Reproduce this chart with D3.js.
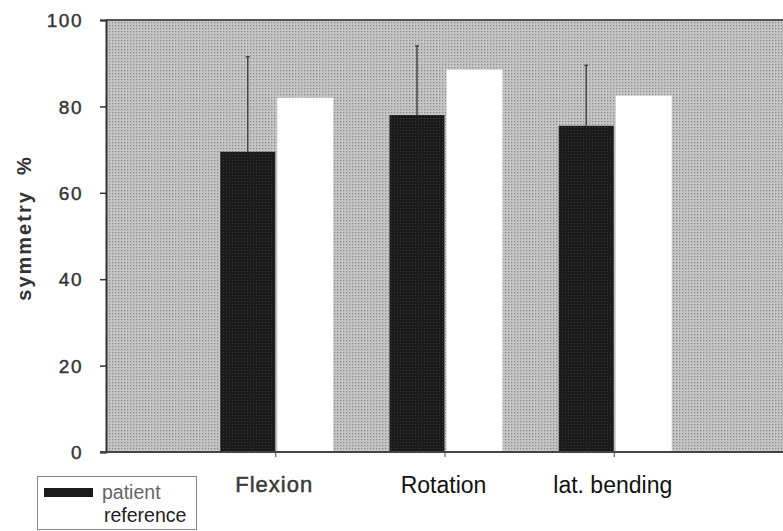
<!DOCTYPE html>
<html><head><meta charset="utf-8">
<script src="https://cdn.jsdelivr.net/npm/d3@7/dist/d3.min.js"></script>
<style>body{margin:0;background:#fff}svg{display:block}</style>
</head><body><div id="chart"></div>
<script>
const categories = ["Flexion", "Rotation", "lat. bending"];
const patient = [69.5, 78, 75.5];
const patientErr = [91.5, 94, 89.5];
const reference = [82, 88.5, 82.5];
const yTicks = [0, 20, 40, 60, 80, 100];
const legendLabels = ["patient", "reference"];

(function () {
const W = 783, H = 531;
const FONT = "Arial, 'Liberation Sans', sans-serif";
const svg = d3.select("#chart").append("svg").attr("width", W).attr("height", H);
const defs = svg.append("defs");
const pat = defs.append("pattern").attr("id", "bgdots").attr("width", 3).attr("height", 3).attr("patternUnits", "userSpaceOnUse");
pat.append("rect").attr("width", 3).attr("height", 3).attr("fill", "#c6c6c6");
pat.append("rect").attr("x", 1).attr("y", 1).attr("width", 1.3).attr("height", 1.3).attr("fill", "#8a8a8a");
const pat2 = defs.append("pattern").attr("id", "darkdots").attr("width", 3).attr("height", 3).attr("patternUnits", "userSpaceOnUse");
pat2.append("rect").attr("width", 3).attr("height", 3).attr("fill", "#1a1a1a");
pat2.append("rect").attr("x", 1).attr("y", 1).attr("width", 1).attr("height", 1).attr("fill", "#3a3a3a");

const pLeft = 106, pRight = 783, pTop = 20, pBottom = 452;
const x = d3.scaleLinear().domain([0, 4]).range([pLeft, pRight]);
const y = d3.scaleLinear().domain([0, 100]).range([pBottom, pTop]);

svg.append("rect").attr("x", pLeft).attr("y", pTop).attr("width", pRight - pLeft).attr("height", pBottom - pTop)
  .attr("fill", "url(#bgdots)");

svg.append("line").attr("x1", pLeft).attr("x2", pRight).attr("y1", pTop).attr("y2", pTop)
  .attr("stroke", "#555").attr("stroke-width", 2);

const gw = 55;
svg.selectAll(".ref").data(reference).enter().append("rect")
  .attr("x", (d, i) => x(i + 1) + 2).attr("width", gw + 1)
  .attr("y", d => y(d)).attr("height", d => y(0) - y(d))
  .attr("fill", "#ffffff");
svg.selectAll(".err").data(patientErr).enter().append("line")
  .attr("x1", (d, i) => x(i + 1) - gw / 2).attr("x2", (d, i) => x(i + 1) - gw / 2)
  .attr("y1", (d, i) => y(patient[i])).attr("y2", d => y(d))
  .attr("stroke", "#444").attr("stroke-width", 1.5);
svg.selectAll(".cap").data(patientErr).enter().append("line")
  .attr("x1", (d, i) => x(i + 1) - gw / 2 - 2).attr("x2", (d, i) => x(i + 1) - gw / 2 + 2)
  .attr("y1", d => y(d)).attr("y2", d => y(d))
  .attr("stroke", "#444").attr("stroke-width", 1.5);
svg.selectAll(".pat").data(patient).enter().append("rect")
  .attr("x", (d, i) => x(i + 1) - gw).attr("width", gw)
  .attr("y", d => y(d)).attr("height", d => y(0) - y(d))
  .attr("fill", "url(#darkdots)");

const ya = svg.append("g").attr("transform", `translate(${pLeft},0)`)
  .call(d3.axisLeft(y).tickValues(yTicks).tickSize(6).tickPadding(17).tickFormat(d3.format("d")));
ya.select(".domain").attr("stroke", "#333").attr("stroke-width", 2);
ya.selectAll(".tick line").attr("stroke", "#333").attr("stroke-width", 1.5);
ya.selectAll(".tick text").attr("font-family", FONT)
  .attr("font-size", 19).attr("letter-spacing", "1.5px").attr("fill", "#333")
  .attr("stroke", "#333").attr("stroke-width", 0.4).attr("dy", "0.35em");

const xa = svg.append("g").attr("transform", `translate(0,${pBottom})`)
  .call(d3.axisBottom(x).tickValues([1, 2, 3]).tickSize(5).tickFormat(""));
xa.select(".domain").attr("d", `M${pLeft - 6},0H${pRight}`).attr("stroke", "#444").attr("stroke-width", 2);
xa.selectAll(".tick line").attr("stroke", "#444").attr("stroke-width", 1);

svg.selectAll(".cat").data(categories).enter().append("text")
  .attr("x", (d, i) => x(i + 1) - 1).attr("y", (d, i) => i === 0 ? 492 : 493)
  .attr("text-anchor", "middle")
  .attr("font-family", FONT).attr("font-size", (d, i) => i === 0 ? 22 : 23)
  .attr("letter-spacing", (d, i) => i === 0 ? "1px" : "0px")
  .attr("fill", (d, i) => i === 0 ? "#3a3a3a" : "#111")
  .attr("stroke", (d, i) => i === 0 ? "#3a3a3a" : "none")
  .attr("stroke-width", 0.5)
  .text(d => d);

svg.append("text").attr("transform", "translate(31,228) rotate(-90)")
  .attr("text-anchor", "middle")
  .attr("font-family", FONT).attr("font-size", 20).attr("font-weight", "bold")
  .attr("fill", "#333").attr("letter-spacing", "2px")
  .attr("xml:space", "preserve")
  .text("symmetry  %");

const lg = svg.append("g");
lg.append("rect").attr("x", 37.5).attr("y", 476.5).attr("width", 159).attr("height", 53)
  .attr("fill", "#fff").attr("stroke", "#888").attr("stroke-width", 1);
lg.append("rect").attr("x", 44).attr("y", 488).attr("width", 49).attr("height", 9).attr("fill", "#1a1a1a");
lg.selectAll(".lt").data(legendLabels).enter().append("text")
  .attr("x", (d, i) => i === 0 ? 102 : 104).attr("y", (d, i) => i === 0 ? 499 : 522)
  .attr("font-family", FONT).attr("font-size", 19.5)
  .attr("fill", (d, i) => i === 0 ? "#666" : "#222")
  .text(d => d);
})();
</script></body></html>
